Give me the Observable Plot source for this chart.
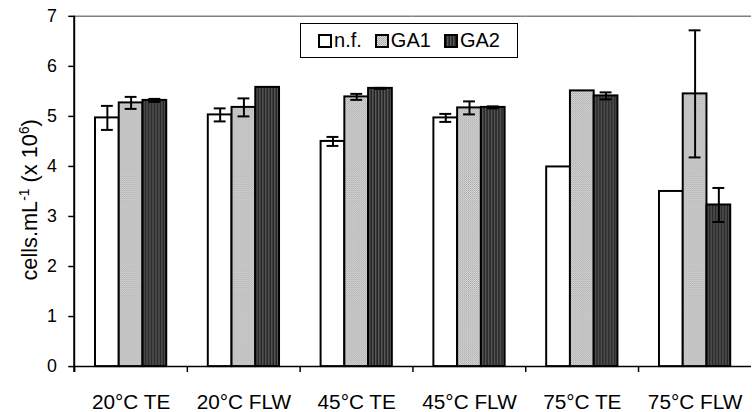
<!DOCTYPE html>
<html>
<head>
<meta charset="utf-8">
<script src="https://cdn.jsdelivr.net/npm/d3@7"></script>
<script src="https://cdn.jsdelivr.net/npm/@observablehq/plot@0.6"></script>
<style>
  html, body { margin: 0; padding: 0; background: #fff; overflow: hidden; }
  #wrap { position: relative; width: 752px; height: 412px; overflow: hidden; font-family: "Liberation Sans", Arial, sans-serif; }
  #legend { position: absolute; left: 300px; top: 23px; width: 216px; height: 33px; border: 1px solid #000; background: #fff;
            display: flex; align-items: center; justify-content: center; gap: 13px; font-size: 20px; color: #000; }
  #legend .item { display: flex; align-items: center; gap: 2px; }
  #legend svg { display: block; }
</style>
</head>
<body>
<svg width="0" height="0" style="position:absolute">
  <defs>
    <pattern id="pGA1" patternUnits="userSpaceOnUse" width="2" height="2">
      <rect width="2" height="2" fill="#d8d8d8"/>
      <rect x="0" y="0" width="1" height="1" fill="#a8a8a8"/>
      <rect x="1" y="1" width="1" height="1" fill="#b8b8b8"/>
    </pattern>
    <pattern id="pGA2" patternUnits="userSpaceOnUse" width="3" height="3">
      <rect width="3" height="3" fill="#3a3a3a"/>
      <rect x="0" y="0" width="1" height="3" fill="#5a5a5a"/>
      <rect x="2" y="0" width="1" height="3" fill="#222"/>
    </pattern>
  </defs>
</svg>
<div id="wrap">
  <div id="chart"></div>
  <div id="legend"></div>
</div>
<script>
const groups = ["20°C TE", "20°C FLW", "45°C TE", "45°C FLW", "75°C TE", "75°C FLW"];
const series = ["n.f.", "GA1", "GA2"];
const nfValues  = [4.97, 5.03, 4.50, 4.97, 3.99, 3.50];
const ga1Values = [5.27, 5.18, 5.39, 5.17, 5.51, 5.45];
const ga2Values = [5.32, 5.58, 5.56, 5.18, 5.41, 3.23];
const nfErr  = [0.24, 0.13, 0.09, 0.08, 0, 0];
const ga1Err = [0.12, 0.18, 0.06, 0.13, 0, 1.27];
const ga2Err = [0.03, 0, 0.01, 0.02, 0.07, 0.34];
const yTicks = [0, 1, 2, 3, 4, 5, 6, 7];
const seriesFills = ["white", "url(#pGA1)", "url(#pGA2)"];

const valuesBySeries = [nfValues, ga1Values, ga2Values];
const errBySeries = [nfErr, ga1Err, ga2Err];
const data = [];
groups.forEach((g, i) => series.forEach((s, j) => {
  data.push({group: g, series: s, value: valuesBySeries[j][i], err: errBySeries[j][i]});
}));
const errData = data.filter(d => d.err > 0);

const W = 760, H = 412, ML = 74, MR = 0, MT = 16, MB = 42;
const step = (W - ML - MR) / groups.length;

const plot = Plot.plot({
  width: W, height: H,
  marginLeft: ML, marginRight: MR, marginTop: MT, marginBottom: MB,
  style: {fontFamily: '"Liberation Sans", Arial, sans-serif', fontSize: "18px", color: "#000", background: "transparent", overflow: "visible"},
  fx: {domain: groups, padding: 0, label: null},
  x: {domain: series, paddingInner: 0, paddingOuter: 0.79, axis: null},
  y: {domain: [0, 7], label: null},
  color: {domain: series, range: seriesFills},
  marks: [
    Plot.ruleY([7], {stroke: "#808080", strokeWidth: 1.5}),
    Plot.barY(data, {fx: "group", x: "series", y: "value", fill: "series", stroke: "#000", strokeWidth: 2}),
    Plot.ruleX(errData, {fx: "group", x: "series", y1: d => d.value - d.err, y2: d => d.value + d.err, stroke: "#000", strokeWidth: 2}),
    Plot.tickY(errData, {fx: "group", x: "series", y: d => d.value - d.err, insetLeft: 6, insetRight: 6, stroke: "#000", strokeWidth: 2}),
    Plot.tickY(errData, {fx: "group", x: "series", y: d => d.value + d.err, insetLeft: 6, insetRight: 6, stroke: "#000", strokeWidth: 2}),
    Plot.ruleY([0], {stroke: "#000", strokeWidth: 1.5}),
    Plot.axisY({ticks: yTicks, tickFormat: d => String(d), tickSize: 6, tickPadding: 12, label: null, fontSize: 18, stroke: "#000", strokeWidth: 1.5}),
    Plot.axisFx({anchor: "bottom", tickSize: 0, tickPadding: 28, label: null, fontSize: 21}),
    Plot.axisFx({anchor: "bottom", tickSize: 6, tickFormat: () => "", label: null, dx: -step / 2, stroke: "#000", strokeWidth: 1.5})
  ]
});
document.getElementById("chart").appendChild(plot);

// y axis line and rotated label
const svg = d3.select(plot);
const ys = plot.scale("y");
const fxs = plot.scale("fx");
const x0 = fxs.apply(groups[0]);
svg.append("line")
  .attr("x1", x0).attr("x2", x0)
  .attr("y1", ys.apply(7)).attr("y2", ys.apply(0) + 6)
  .attr("stroke", "#000").attr("stroke-width", 2);

const lbl = svg.append("text")
  .attr("transform", `translate(37,${(ys.apply(0) + ys.apply(7)) / 2 + 9}) rotate(-90)`)
  .attr("text-anchor", "middle")
  .attr("font-size", 22)
  .attr("fill", "#000");
lbl.append("tspan").text("cells.mL");
lbl.append("tspan").attr("font-size", 14).attr("dy", -8).text("-1");
lbl.append("tspan").attr("dy", 8).text(" (x 10");
lbl.append("tspan").attr("font-size", 14).attr("dy", -8).text("6");
lbl.append("tspan").attr("dy", 8).text(")");

// legend
const legend = d3.select("#legend");
series.forEach((s, j) => {
  const item = legend.append("div").attr("class", "item");
  const sw = item.append("svg").attr("width", 14).attr("height", 14);
  sw.append("rect").attr("x", 1).attr("y", 1).attr("width", 12).attr("height", 12)
    .attr("fill", seriesFills[j]).attr("stroke", "#000").attr("stroke-width", 2);
  item.append("span").text(s);
});
</script>
</body>
</html>
